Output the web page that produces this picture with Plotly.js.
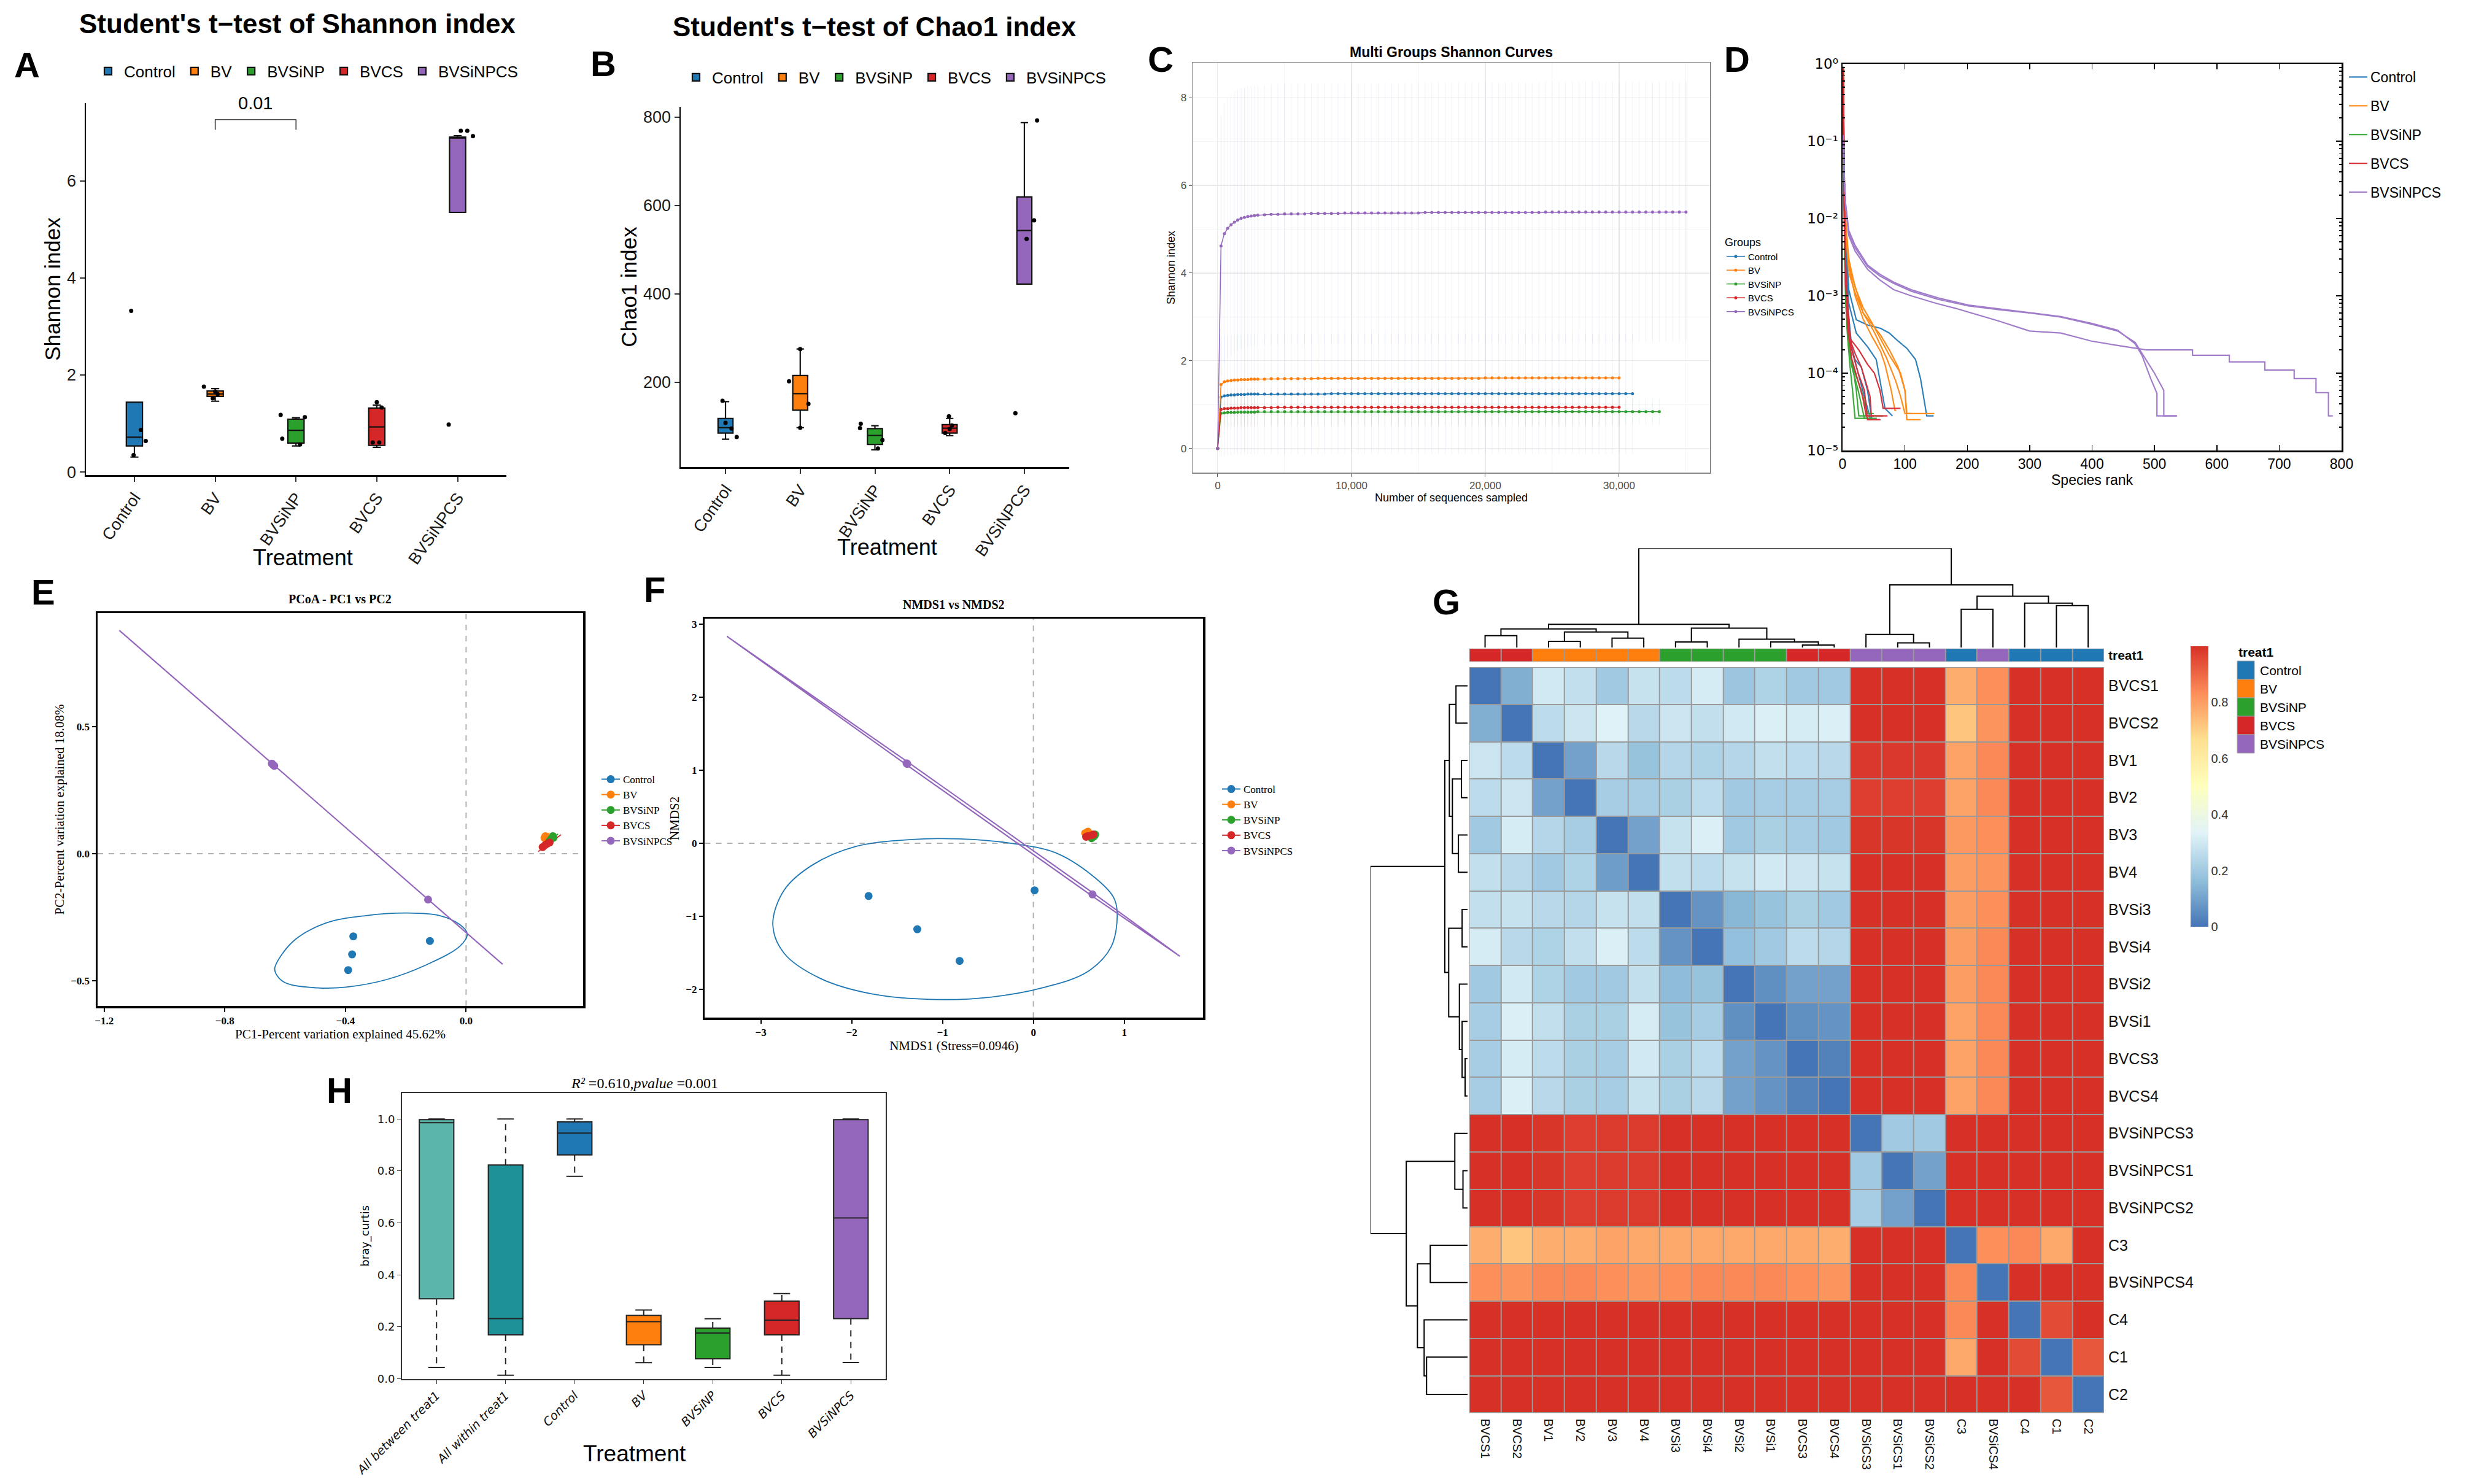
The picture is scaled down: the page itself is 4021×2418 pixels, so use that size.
<!DOCTYPE html>
<html><head><meta charset="utf-8">
<script src="https://cdn.plot.ly/plotly-3.0.1.min.js"></script>
<style>html,body{margin:0;padding:0;background:#fff}</style>
</head><body>
<div id="chart" style="width:4021px;height:2418px"></div>
<script>
// ===================== DATA =====================
const groups = ['Control','BV','BVSiNP','BVCS','BVSiNPCS'];
const groupColors = ['#1f77b4','#ff7f0e','#2ca02c','#d62728','#9467bd'];

// ---- A: Shannon index (box statistics + sample points) ----
const shannonQ1     = [0.54, 1.56, 0.60, 0.55, 5.35];
const shannonMedian = [0.72, 1.61, 0.86, 0.93, 6.88];
const shannonQ3     = [1.44, 1.67, 1.09, 1.32, 6.90];
const shannonLower  = [0.31, 1.46, 0.54, 0.51, 5.35];
const shannonUpper  = [1.44, 1.72, 1.12, 1.38, 6.93];
const shannonPtsX = [[0.96,1.08,1.14,0.99],[1.86,1.97,2.03,2.0],[2.81,2.83,3.11,3.05],[4.0,4.06,3.95,4.03],[5.04,5.12,5.19,4.89]];
const shannonPtsY = [[3.32,0.87,0.64,0.35],[1.76,1.52,1.61,1.66],[1.18,0.69,1.13,0.57],[1.44,1.33,0.61,0.61],[7.03,7.03,6.92,0.98]];
const shannonSigPair = [2, 3];
const shannonSigY = [7.05, 7.26];
const shannonSigLabel = '0.01';

// ---- B: Chao1 index ----
const chaoQ1     = [85, 136.5, 59, 85, 422];
const chaoMedian = [97, 174, 79.5, 96, 543];
const chaoQ3     = [118, 215, 95, 104, 619];
const chaoLower  = [71, 97, 47, 79, 422];
const chaoUpper  = [156, 275, 101.5, 118, 787];
const chaoPtsX = [[1.0,1.15,0.96,1.08],[1.85,2.11,2.0,2.0],[2.81,2.80,3.10,3.04],[3.99,4.03,3.94,4.0],[5.17,5.13,5.03,4.88]];
const chaoPtsY = [[108,76,158,95],[202,151,275,97],[106,96,69,50],[123,102,85,94],[792,566,524,130]];

// ---- C: Shannon rarefaction curves ----
const rareDepth = [0,250,500,750,1000,1250,1500,1750,2000,2250,2500,2750,3000,
  3500,4000,4500,5000,5500,6000,6500,7000,7500,8000,8500,9000,9500,10000,
  10500,11000,11500,12000,12500,13000,13500,14000,14500,15000,15500,16000,16500,17000,17500,18000,18500,19000,19500,20000,
  20500,21000,21500,22000,22500,23000,23500,24000,24500,25000,25500,26000,26500,27000,27500,28000,28500,29000,29500,30000,
  30500,31000,31500,32000,32500,33000,33500,34000,34500,35000];
const rareControl = [0,1.17,1.20,1.21,1.22,1.22,1.23,1.23,1.23,1.24,1.24,1.24,1.24,
  1.24,1.24,1.24,1.24,1.24,1.24,1.24,1.24,1.24,1.24,1.25,1.25,1.25,1.25,
  1.25,1.25,1.25,1.25,1.25,1.25,1.25,1.25,1.25,1.25,1.25,1.25,1.25,1.25,1.25,1.25,1.25,1.25,1.25,1.25,
  1.25,1.25,1.25,1.25,1.25,1.25,1.25,1.25,1.25,1.25,1.25,1.25,1.25,1.25,1.25,1.25,1.25,1.25,1.25,1.25,
  1.25,1.25];
const rareBV = [0,1.46,1.52,1.54,1.55,1.56,1.56,1.57,1.57,1.57,1.58,1.58,1.58,
  1.58,1.59,1.59,1.59,1.59,1.59,1.59,1.59,1.60,1.60,1.60,1.60,1.60,1.60,
  1.60,1.60,1.60,1.60,1.60,1.60,1.60,1.60,1.60,1.60,1.60,1.60,1.60,1.60,1.60,1.60,1.60,1.60,1.60,1.61,
  1.61,1.61,1.61,1.61,1.61,1.61,1.61,1.61,1.61,1.61,1.61,1.61,1.61,1.61,1.61,1.61,1.61,1.61,1.61,1.61];
const rareBVSiNP = [0,0.80,0.81,0.82,0.82,0.82,0.83,0.83,0.83,0.83,0.83,0.83,0.84,
  0.84,0.84,0.84,0.84,0.84,0.84,0.84,0.84,0.84,0.84,0.84,0.84,0.84,0.84,
  0.84,0.84,0.84,0.84,0.84,0.84,0.84,0.84,0.84,0.84,0.84,0.84,0.84,0.84,0.84,0.84,0.84,0.84,0.84,0.84,
  0.84,0.84,0.84,0.84,0.84,0.84,0.84,0.84,0.84,0.84,0.84,0.84,0.84,0.84,0.84,0.84,0.84,0.84,0.84,0.84,
  0.84,0.84,0.84,0.84,0.84,0.84];
const rareBVCS = [0,0.89,0.91,0.91,0.92,0.92,0.92,0.93,0.93,0.93,0.93,0.93,0.93,
  0.93,0.93,0.94,0.94,0.94,0.94,0.94,0.94,0.94,0.94,0.94,0.94,0.94,0.94,
  0.94,0.94,0.94,0.94,0.94,0.94,0.94,0.94,0.94,0.94,0.94,0.94,0.94,0.94,0.94,0.94,0.94,0.94,0.94,0.94,
  0.94,0.94,0.94,0.94,0.94,0.94,0.94,0.94,0.94,0.94,0.94,0.94,0.94,0.94,0.94,0.94,0.94,0.94,0.94,0.94];
const rareBVSiNPCS = [0,4.62,4.90,5.02,5.10,5.16,5.21,5.25,5.27,5.29,5.30,5.31,5.32,
  5.33,5.34,5.34,5.35,5.35,5.35,5.35,5.36,5.36,5.36,5.36,5.36,5.37,5.37,
  5.37,5.37,5.37,5.37,5.37,5.37,5.37,5.37,5.37,5.37,5.38,5.38,5.38,5.38,5.38,5.38,5.38,5.38,5.38,5.38,
  5.38,5.38,5.38,5.38,5.38,5.38,5.38,5.38,5.39,5.39,5.39,5.39,5.39,5.39,5.39,5.39,5.39,5.39,5.39,5.39,
  5.39,5.39,5.39,5.39,5.39,5.39,5.39,5.39,5.39,5.39];
const rareSD = [1.37, 0.08, 0.30, 0.45, 2.97];

// ---- D: rank abundance curves [rank, relative abundance] ----
const dControl = [
 [[1,0.8],[2,0.1],[3,0.03],[5,0.006],[10,0.0012],[22,0.00049],[40,0.00042],[61,0.00038],[75,0.00033],[89,0.00026],[103,0.00021],[117,0.00015],[125,0.000085],[135,0.000028],[146,0.000028]],
 [[1,0.85],[2,0.06],[3,0.02],[5,0.004],[10,0.0008],[22,0.00033],[40,0.00022],[54,0.00015],[61,0.00007],[68,0.000035],[80,0.000028]],
 [[1,0.9],[2,0.04],[3,0.01],[5,0.002],[12,0.00025],[20,0.00015],[30,0.00012],[40,0.00006],[47,0.000025],[61,0.000025]],
 [[1,0.9],[2,0.03],[4,0.005],[8,0.0008],[15,0.0002],[25,0.0001],[35,0.00005],[45,0.000025],[55,0.000025]]
];
const dBV = [
 [[1,0.75],[2,0.1],[3,0.03],[5,0.01],[8,0.004],[12,0.0022],[22,0.0012],[33,0.0006],[47,0.00043],[61,0.00031],[75,0.0002],[89,0.00012],[100,0.00006],[103,0.00003],[147,0.00003]],
 [[1,0.75],[2,0.1],[3,0.03],[5,0.009],[10,0.003],[20,0.0013],[33,0.0007],[47,0.00045],[61,0.00028],[75,0.00017],[93,0.0001],[100,0.00006],[103,0.000025],[125,0.000025]],
 [[1,0.8],[2,0.08],[3,0.02],[5,0.008],[10,0.0025],[20,0.001],[33,0.0005],[47,0.0003],[61,0.00019],[68,0.00013],[78,0.00006],[84,0.000033],[86,0.000033]],
 [[1,0.8],[2,0.08],[3,0.02],[5,0.007],[10,0.002],[20,0.0011],[33,0.0006],[50,0.00035],[70,0.00016],[85,0.00008],[93,0.00005],[100,0.00003],[110,0.00003]]
];
const dBVSiNP = [
 [[1,0.88],[2,0.06],[3,0.01],[5,0.0015],[8,0.0004],[12,0.00018],[18,0.0001],[22,0.00006],[26,0.000028],[65,0.000028]],
 [[1,0.9],[2,0.04],[3,0.008],[5,0.001],[8,0.0003],[12,0.00012],[16,0.00006],[20,0.000026],[45,0.000026]],
 [[1,0.9],[2,0.04],[3,0.006],[5,0.0008],[10,0.0002],[20,0.0001],[30,0.00006],[40,0.00003],[50,0.00003]],
 [[1,0.92],[2,0.03],[4,0.002],[8,0.0003],[15,0.00012],[25,0.00006],[35,0.000026],[55,0.000026]]
];
const dBVCS = [
 [[1,0.85],[2,0.06],[3,0.015],[5,0.002],[12,0.00028],[26,0.0002],[40,0.00013],[51,0.0001],[60,0.00006],[65,0.000035],[93,0.000035]],
 [[1,0.88],[2,0.05],[3,0.01],[5,0.0015],[10,0.0003],[20,0.00018],[30,0.00012],[44,0.00005],[46,0.000028],[72,0.000028]],
 [[1,0.88],[2,0.05],[4,0.004],[8,0.0005],[15,0.0002],[25,0.0001],[35,0.00006],[40,0.000025],[60,0.000025]],
 [[1,0.9],[2,0.04],[4,0.003],[8,0.0004],[15,0.00015],[25,0.00008],[32,0.00005],[38,0.000028],[50,0.000028]]
];
const dBVSiNPCS = [
 [[1,0.1],[2,0.05],[3,0.03],[5,0.015],[10,0.007],[20,0.0045],[40,0.0025],[60,0.0019],[82,0.0015],[110,0.0012],[153,0.00094],[202,0.00076],[251,0.00068],[300,0.00061],[350,0.00054],[399,0.00044],[441,0.00036],[469,0.00024],[480,0.00017],[494,0.000085],[504,0.000055],[504,0.000028],[536,0.000028]],
 [[1,0.12],[2,0.05],[3,0.03],[5,0.014],[10,0.0065],[20,0.0042],[40,0.0024],[60,0.0018],[82,0.00145],[110,0.00115],[153,0.0009],[202,0.00074],[251,0.00066],[300,0.0006],[350,0.00053],[399,0.00043],[441,0.00035],[469,0.00025],[480,0.00018],[500,0.0001],[515,0.00006],[515,0.000028],[536,0.000028]],
 [[1,0.1],[2,0.05],[3,0.03],[5,0.015],[10,0.006],[20,0.0038],[40,0.0022],[60,0.0016],[82,0.0012],[110,0.001],[150,0.0008],[181,0.00069],[251,0.00047],[300,0.00035],[350,0.00033],[399,0.00026],[438,0.00023],[487,0.0002],[561,0.0002],[561,0.00017],[620,0.00017],[620,0.00014],[677,0.00014],[677,0.00011],[724,0.00011],[724,0.000085],[759,0.000085],[759,0.000056],[779,0.000056],[779,0.000028],[786,0.000028]]
];
const dColors = ['#2c7fb8','#ff8c1a','#3aaa3a','#d7303a','#a07ccb'];

// ---- E: PCoA ----
const pcoaX = [[-0.374,-0.378,-0.391,-0.120],[0.263,0.267,0.260,0.270],[0.288,0.277,0.282,0.290],[0.254,0.277,0.262,0.270],[-0.644,-0.640,-0.636,-0.126]];
const pcoaY = [[-0.326,-0.397,-0.459,-0.344],[0.069,0.056,0.062,0.060],[0.069,0.050,0.058,0.063],[0.026,0.044,0.034,0.040],[0.355,0.350,0.346,-0.181]];
const pcoaEllipseX = [
 [-0.634,-0.574,-0.466,-0.331,-0.196,-0.088,-0.020,0.004,-0.020,-0.128,-0.263,-0.398,-0.493,-0.601,-0.631,-0.634],
 [0.255,0.276],[0.268,0.305],[0.239,0.315],[-1.150,0.121]];
const pcoaEllipseY = [
 [-0.448,-0.346,-0.274,-0.244,-0.234,-0.244,-0.280,-0.316,-0.364,-0.436,-0.496,-0.526,-0.529,-0.508,-0.472,-0.448],
 [0.050,0.082],[0.038,0.078],[0.008,0.075],[0.880,-0.436]];

// ---- F: NMDS ----
const nmdsX = [[-1.814,-1.278,-0.812,0.013],[0.57,0.60,0.62,0.59],[0.66,0.68,0.64,0.67],[0.60,0.64,0.58,0.66],[-1.392,-1.388,-1.396,0.650]];
const nmdsY = [[-0.722,-1.177,-1.611,-0.644],[0.14,0.16,0.13,0.12],[0.09,0.12,0.07,0.10],[0.10,0.11,0.09,0.12],[1.092,1.088,1.096,-0.700]];
const nmdsEllipseX = [
 [-2.868,-2.745,-2.437,-1.954,-1.339,-0.812,-0.242,0.242,0.637,0.878,0.922,0.856,0.593,0.110,-0.461,-1.076,-1.779,-2.350,-2.745,-2.868],
 [0.54,0.64],[0.62,0.70],[0.56,0.68],[-3.373,-1.39,0.65,1.612,0.65,-1.39,-3.373]];
const nmdsEllipseY = [
 [-1.116,-0.644,-0.301,-0.043,0.052,0.060,0.0,-0.129,-0.430,-0.731,-0.944,-1.418,-1.762,-1.977,-2.106,-2.140,-2.063,-1.848,-1.504,-1.116],
 [0.11,0.17],[0.06,0.13],[0.08,0.13],[2.836,1.12,-0.675,-1.547,-0.725,1.07,2.836]];

// ---- G: Bray-Curtis heatmap ----
const rowLabels = ['BVCS1','BVCS2','BV1','BV2','BV3','BV4','BVSi3','BVSi4','BVSi2','BVSi1','BVCS3','BVCS4','BVSiNPCS3','BVSiNPCS1','BVSiNPCS2','C3','BVSiNPCS4','C4','C1','C2'];
const colLabels = ['BVCS1','BVCS2','BV1','BV2','BV3','BV4','BVSi3','BVSi4','BVSi2','BVSi1','BVCS3','BVCS4','BVSiCS3','BVSiCS1','BVSiCS2','C3','BVSiCS4','C4','C1','C2'];
const colGroups = ['BVCS','BVCS','BV','BV','BV','BV','BVSiNP','BVSiNP','BVSiNP','BVSiNP','BVCS','BVCS','BVSiNPCS','BVSiNPCS','BVSiNPCS','Control','BVSiNPCS','Control','Control','Control'];
const brayMatrix = [
 [0,.13,.30,.27,.20,.28,.26,.31,.19,.23,.20,.20,1,1,1,.77,.83,1,1,1],
 [.13,0,.26,.29,.33,.25,.29,.27,.30,.32,.31,.32,1,1,1,.72,.82,1,1,1],
 [.29,.26,0,.10,.25,.18,.24,.23,.24,.27,.26,.25,.985,.985,.985,.79,.84,1,1,1],
 [.26,.29,.10,0,.21,.21,.22,.26,.20,.21,.21,.21,.975,.975,.975,.79,.84,1,1,1],
 [.20,.31,.24,.21,0,.10,.28,.32,.20,.22,.21,.20,.99,.99,.99,.81,.83,1,1,1],
 [.27,.25,.20,.23,.09,0,.27,.26,.28,.30,.29,.28,1,1,1,.80,.82,1,1,1],
 [.27,.28,.25,.24,.28,.27,0,.07,.15,.18,.22,.20,1,1,1,.80,.83,1,1,1],
 [.31,.25,.23,.27,.32,.26,.07,0,.17,.20,.26,.24,1,1,1,.80,.84,1,1,1],
 [.20,.30,.23,.20,.20,.27,.16,.18,0,.06,.10,.10,1,1,1,.80,.84,1,1,1],
 [.21,.32,.27,.22,.22,.31,.18,.21,.06,0,.06,.07,1,1,1,.79,.84,1,1,1],
 [.21,.31,.26,.22,.21,.30,.22,.26,.10,.07,0,.03,1,1,1,.79,.84,1,1,1],
 [.21,.32,.25,.22,.21,.28,.22,.25,.10,.07,.03,0,1,1,1,.79,.84,1,1,1],
 [1,1,.99,.975,.98,.98,1,1,1,1,1,1,0,.20,.20,1,1,1,1,1],
 [1,1,.99,.975,.98,.98,1,1,1,1,1,1,.20,0,.10,1,1,1,1,1],
 [1,1,.99,.975,.98,.98,1,1,1,1,1,1,.21,.10,0,1,1,1,1,1],
 [.77,.72,.77,.77,.79,.78,.78,.78,.78,.78,.78,.77,1,1,1,0,.83,.84,.78,1],
 [.83,.82,.84,.84,.83,.82,.83,.84,.84,.84,.83,.82,1,1,1,.84,0,1,1,1],
 [1,1,1,1,1,1,1,1,1,1,1,1,1,1,1,.84,1,0,.95,1],
 [1,1,1,1,1,1,1,1,1,1,1,1,1,1,1,.78,1,.95,0,.93],
 [1,1,1,1,1,1,1,1,1,1,1,1,1,1,1,1,1,1,.93,0]
];
// hierarchical clustering (same tree for rows and columns): merges reference leaves 0-19, new nodes 20+
const dendroMerges = [[0,1],[2,3],[4,5],[21,22],[20,23],[6,7],[10,11],[9,26],[8,27],[25,28],[24,29],
  [13,14],[12,31],[15,16],[18,19],[17,34],[33,35],[32,36],[30,37]];
const dendroHeights = [0.119,0.0625,0.094,0.156,0.1875,0.056,0.025,0.056,0.084,0.194,0.234,
  0.047,0.131,0.384,0.422,0.447,0.516,0.631,1.0];

// ---- H: Bray-Curtis distances box plot ----
const hCategories = ['All between treat1','All within treat1','Control','BV','BVSiNP','BVCS','BVSiNPCS'];
const hColors = ['#5bb5aa','#1e9097','#1f77b4','#ff7f0e','#2ca02c','#d62728','#9467bd'];
const hQ1     = [0.308,0.169,0.862,0.131,0.077,0.169,0.232];
const hMedian = [0.986,0.232,0.946,0.220,0.176,0.226,0.619];
const hQ3     = [0.998,0.823,0.989,0.244,0.195,0.299,0.998];
const hLower  = [0.044,0.014,0.779,0.062,0.044,0.014,0.063];
const hUpper  = [1.0,1.0,1.0,0.265,0.231,0.328,1.0];

// ===================== LAYOUT HELPERS =====================
const W = 4021, H = 2418;
const px = v => v / W;
const py = v => 1 - v / H;
const xd = (a, b) => [px(a), px(b)];
const yd = (top, bottom) => [py(bottom), py(top)];
const sans = 'Liberation Sans, Arial, sans-serif';
const serif = 'Liberation Serif, Times New Roman, serif';
const dejavu = 'DejaVu Sans, sans-serif';

const traces = [];
const shapes = [];
const annotations = [];

// ===================== A & B: box plots =====================
function boxPanel(xa, ya, leg, q1, med, q3, lo, hi, ptsX, ptsY) {
  groups.forEach((g, i) => {
    traces.push({type:'box', name:g, x:[i+1], q1:[q1[i]], median:[med[i]], q3:[q3[i]],
      lowerfence:[lo[i]], upperfence:[hi[i]], width:0.2, whiskerwidth:0.5,
      fillcolor:groupColors[i], line:{color:'#111', width:2.2}, boxpoints:false,
      xaxis:xa, yaxis:ya, legend:leg, showlegend:true, hoverinfo:'skip'});
  });
  groups.forEach((g, i) => {
    traces.push({type:'scatter', mode:'markers', x:ptsX[i], y:ptsY[i],
      marker:{color:'#000', size:7}, xaxis:xa, yaxis:ya, showlegend:false, hoverinfo:'skip'});
  });
}
boxPanel('x','y','legend', shannonQ1, shannonMedian, shannonQ3, shannonLower, shannonUpper, shannonPtsX, shannonPtsY);
boxPanel('x2','y2','legend2', chaoQ1, chaoMedian, chaoQ3, chaoLower, chaoUpper, chaoPtsX, chaoPtsY);
// significance bracket
traces.push({type:'scatter', mode:'lines',
  x:[shannonSigPair[0], shannonSigPair[0], shannonSigPair[1], shannonSigPair[1]],
  y:[shannonSigY[0], shannonSigY[1], shannonSigY[1], shannonSigY[0]],
  line:{color:'#222', width:1.5}, xaxis:'x', yaxis:'y', showlegend:false, hoverinfo:'skip'});
annotations.push({xref:'x', yref:'y domain', x:(shannonSigPair[0]+shannonSigPair[1])/2, y:1.0,
  xanchor:'center', yanchor:'middle', text:shannonSigLabel, showarrow:false, font:{size:29, family:sans}});

// ===================== C: rarefaction =====================
const rareY = [rareControl, rareBV, rareBVSiNP, rareBVCS, rareBVSiNPCS];
const faint = ['rgba(120,150,205,0.13)','rgba(255,150,60,0.10)','rgba(60,170,80,0.10)','rgba(230,90,100,0.10)','rgba(130,150,210,0.12)'];
groups.forEach((g, i) => {
  const xs = rareDepth.slice(0, rareY[i].length);
  traces.push({type:'scatter', mode:'lines+markers', name:g, x:xs, y:rareY[i],
    line:{color:groupColors[i], width:1.5}, marker:{color:groupColors[i], size:5},
    error_y:{type:'data', array:xs.map(d => d === 0 ? 0 : rareSD[i]), color:faint[i], thickness:1, width:0},
    xaxis:'x3', yaxis:'y3', legend:'legend3', hoverinfo:'skip'});
});

// ===================== D: rank abundance =====================
const dGroups = [dControl, dBV, dBVSiNP, dBVCS, dBVSiNPCS];
dGroups.forEach((curves, gi) => {
  curves.forEach((c, ci) => {
    const t = {type:'scatter', mode:'lines', name:groups[gi], showlegend: ci === 0,
      x:c.map(p => p[0]), y:c.map(p => p[1]),
      line:{color:dColors[gi], width:2.2}, xaxis:'x4', yaxis:'y4', legend:'legend4', hoverinfo:'skip'};
    if (ci === 0) t.legendgroup = 'D' + groups[gi];
    traces.push(t);
  });
});

// ===================== E & F: ordinations =====================
function interleave(arr) { const o = []; arr.forEach(v => { o.push(v, null); }); return o; }
function ordPanel(xa, ya, leg, X, Y, EX, EY, dotSize) {
  groups.forEach((g, i) => {
    traces.push({type:'scatter', mode:'lines', x:EX[i], y:EY[i],
      line:{color:groupColors[i], width:i === 4 ? 2.2 : 1.8, shape:(i === 0 ? 'spline' : 'linear'), smoothing:1},
      xaxis:xa, yaxis:ya, showlegend:false, hoverinfo:'skip'});
  });
  groups.forEach((g, i) => {
    traces.push({type:'scatter', mode:'lines+markers', name:g, x:interleave(X[i]), y:interleave(Y[i]),
      marker:{color:groupColors[i], size:dotSize}, line:{color:groupColors[i], width:2},
      connectgaps:false, xaxis:xa, yaxis:ya, legend:leg, hoverinfo:'skip'});
  });
}
ordPanel('x5','y5','legend5', pcoaX, pcoaY, pcoaEllipseX, pcoaEllipseY, 13);
ordPanel('x6','y6','legend6', nmdsX, nmdsY, nmdsEllipseX, nmdsEllipseY, 13);
['5','6'].forEach(k => {
  shapes.push({type:'line', xref:'x'+k, yref:'y'+k+' domain', x0:0, x1:0, y0:0, y1:1, line:{color:'#b0b0b0', width:2, dash:'dash'}, layer:'below'});
  shapes.push({type:'line', xref:'x'+k+' domain', yref:'y'+k, x0:0, x1:1, y0:0, y1:0, line:{color:'#b0b0b0', width:2, dash:'dash'}, layer:'below'});
});

// ===================== H: box plot with dashed whiskers =====================
const wx = [], wy = [], cx = [], cy = [];
hCategories.forEach((c, i) => {
  const p = i + 1;
  traces.push({type:'box', name:c, x:[p], q1:[hQ1[i]], median:[hMedian[i]], q3:[hQ3[i]],
    lowerfence:[hQ1[i]], upperfence:[hQ3[i]], width:0.5, whiskerwidth:0,
    fillcolor:hColors[i], line:{color:'#222', width:2}, boxpoints:false,
    xaxis:'x7', yaxis:'y7', showlegend:false, hoverinfo:'skip'});
  wx.push(p, p, null, p, p, null);
  wy.push(hQ1[i], hLower[i], null, hQ3[i], hUpper[i], null);
  cx.push(p - 0.12, p + 0.12, null, p - 0.12, p + 0.12, null);
  cy.push(hLower[i], hLower[i], null, hUpper[i], hUpper[i], null);
});
traces.push({type:'scatter', mode:'lines', x:wx, y:wy, line:{color:'#222', width:2, dash:'10px,9px'},
  xaxis:'x7', yaxis:'y7', showlegend:false, hoverinfo:'skip'});
traces.push({type:'scatter', mode:'lines', x:cx, y:cy, line:{color:'#222', width:2},
  xaxis:'x7', yaxis:'y7', showlegend:false, hoverinfo:'skip'});

// ===================== G: heatmap =====================
const idx = colLabels.map((_, i) => i);
const rdylbu = [[0,'#4575b4'],[1/6,'#91bfdb'],[2/6,'#e0f3f8'],[0.5,'#ffffbf'],[4/6,'#fee090'],[5/6,'#fc8d59'],[1,'#d73027']];
traces.push({type:'heatmap', x:idx, y:rowLabels.map((_, i) => i), z:brayMatrix, zmin:0, zmax:1,
  colorscale:rdylbu, xgap:2, ygap:2, xaxis:'x8', yaxis:'y8', hoverinfo:'skip',
  colorbar:{x:px(3569), xanchor:'left', y:py(1053), yanchor:'top', len:457, lenmode:'pixels',
    thickness:29, xpad:0, ypad:0, outlinewidth:0, ticks:'', tickvals:[0,0.2,0.4,0.6,0.8],
    ticktext:['0','0.2','0.4','0.6','0.8'], tickfont:{size:20, family:sans, color:'#333'}}});
const annColorscale = [];
groupColors.forEach((c, i) => {
  annColorscale.push([i / groupColors.length, c], [(i + 1) / groupColors.length, c]);
});
traces.push({type:'heatmap', x:idx, y:[0], z:[colGroups.map(g => groups.indexOf(g))],
  zmin:-0.5, zmax:groups.length - 0.5, colorscale:annColorscale, showscale:false, xgap:2, ygap:2,
  xaxis:'x8', yaxis:'y9', hoverinfo:'skip'});
shapes.push({type:'rect', xref:'x8', yref:'y8', x0:-0.5, x1:idx.length - 0.5, y0:-0.5, y1:rowLabels.length - 0.5,
  fillcolor:'#9a9a9a', line:{width:0}, layer:'below'});
shapes.push({type:'rect', xref:'x8', yref:'y9', x0:-0.5, x1:idx.length - 0.5, y0:-0.5, y1:0.5,
  fillcolor:'#9a9a9a', line:{width:0}, layer:'below'});
// dendrograms
function dendro(merges, heights, n) {
  const pos = [], hh = [], xs = [], ys = [];
  for (let i = 0; i < n; i++) { pos.push(i); hh.push(0); }
  merges.forEach((m, k) => {
    const a = m[0], b = m[1], h = heights[k];
    xs.push(pos[a], pos[a], pos[b], pos[b], null);
    ys.push(hh[a], h, h, hh[b], null);
    pos.push((pos[a] + pos[b]) / 2); hh.push(h);
  });
  return {xs, ys};
}
const dg = dendro(dendroMerges, dendroHeights, colLabels.length);
traces.push({type:'scatter', mode:'lines', x:dg.xs, y:dg.ys, line:{color:'#000', width:2},
  xaxis:'x8', yaxis:'y10', showlegend:false, hoverinfo:'skip', cliponaxis:false});
traces.push({type:'scatter', mode:'lines', x:dg.ys, y:dg.xs, line:{color:'#000', width:2},
  xaxis:'x11', yaxis:'y8', showlegend:false, hoverinfo:'skip', cliponaxis:false});
// treat1 legend
annotations.push({xref:'paper', yref:'paper', x:px(3645), y:py(1062), xanchor:'left', yanchor:'middle',
  text:'<b>treat1</b>', showarrow:false, font:{size:21, family:sans}});
groups.forEach((g, i) => {
  const top = 1077 + 30 * i;
  shapes.push({type:'rect', xref:'paper', yref:'paper', x0:px(3645), x1:px(3673), y0:py(top + 30), y1:py(top),
    fillcolor:groupColors[i], line:{color:'#a0a0a0', width:1}});
  annotations.push({xref:'paper', yref:'paper', x:px(3680), y:py(top + 15), xanchor:'left', yanchor:'middle',
    text:g, showarrow:false, font:{size:21, family:sans}});
});

// ===================== AXES =====================
const ggX = (dom, anchor, vals, text, range) => ({domain:dom, anchor, range, tickvals:vals, ticktext:text,
  tickangle:-55, ticks:'outside', ticklen:8, tickwidth:2, tickcolor:'#333', showline:true, linecolor:'#000',
  linewidth:2.5, showgrid:false, zeroline:false, tickfont:{size:27, family:sans, color:'#1a1a1a'}});
const ggY = (dom, anchor, vals, range, title) => ({domain:dom, anchor, range, tickvals:vals,
  ticks:'outside', ticklen:8, tickwidth:2, tickcolor:'#333', showline:true, linecolor:'#000', linewidth:2.5,
  showgrid:false, zeroline:false, tickfont:{size:27, family:sans, color:'#1a1a1a'},
  title:{text:title, font:{size:35, family:sans}, standoff:0}});
const catPos = groups.map((_, i) => i + 1);

const ordAxis = (dom, anchor, range, vals, text, title) => ({domain:dom, anchor, range, tickvals:vals, ticktext:text,
  ticks:'outside', ticklen:6, tickwidth:2, tickcolor:'#000', showline:true, mirror:true, linecolor:'#000', linewidth:3.5,
  showgrid:false, zeroline:false, tickfont:{size:17, family:serif, weight:'bold', color:'#000'},
  title:{text:title, font:{size:21, family:serif}, standoff:6}});

const layout = {
  width:W, height:H, margin:{l:0, r:0, t:0, b:0}, paper_bgcolor:'#fff', plot_bgcolor:'#fff',
  font:{family:sans, color:'#000'}, showlegend:true,
  // A
  xaxis: ggX(xd(140, 824.5), 'y', catPos, groups, [0.4, 5.6]),
  yaxis: ggY(yd(168, 774), 'x', [0,2,4,6], [-0.06, 7.6], 'Shannon index'),
  // B
  xaxis2: ggX(xd(1109, 1742), 'y2', catPos, groups, [0.4, 5.6]),
  yaxis2: ggY(yd(174, 761), 'x2', [200,400,600,800], [8, 823], 'Chao1 index'),
  // C
  xaxis3: {domain:xd(1943, 2786), anchor:'y3', range:[-1875, 36790], tick0:0, dtick:10000, tickformat:',',
    ticks:'outside', ticklen:5, tickcolor:'#555', showline:true, mirror:true, linecolor:'#8a8a8a', linewidth:1.5,
    showgrid:true, gridcolor:'#ebebeb', gridwidth:1.2, zeroline:false,
    minor:{dtick:5000, showgrid:true, gridcolor:'#f4f4f4', gridwidth:1},
    tickfont:{size:17, family:sans, color:'#4d4d4d'},
    title:{text:'Number of sequences sampled', font:{size:18, family:sans}, standoff:2}},
  yaxis3: {domain:yd(102, 770), anchor:'x3', range:[-0.55, 8.8], tick0:0, dtick:2,
    ticks:'outside', ticklen:5, tickcolor:'#555', showline:true, mirror:true, linecolor:'#8a8a8a', linewidth:1.5,
    showgrid:true, gridcolor:'#ebebeb', gridwidth:1.2, zeroline:false,
    minor:{dtick:1, showgrid:true, gridcolor:'#f4f4f4', gridwidth:1},
    tickfont:{size:17, family:sans, color:'#4d4d4d'},
    title:{text:'Shannon index', font:{size:18, family:sans}, standoff:4}},
  // D
  xaxis4: {domain:xd(3002, 3815), anchor:'y4', range:[0, 800], tick0:0, dtick:100,
    ticks:'inside', ticklen:9, tickwidth:1.5, tickcolor:'#000', showline:true, mirror:'ticks', linecolor:'#000', linewidth:2.5,
    showgrid:false, zeroline:false, tickfont:{size:23, family:sans, color:'#000'},
    title:{text:'Species rank', font:{size:23, family:sans}, standoff:4}},
  yaxis4: {domain:yd(104, 734), anchor:'x4', type:'log', range:[-5, 0],
    tickvals:[1, 1e-1, 1e-2, 1e-3, 1e-4, 1e-5],
    ticktext:['10⁰','10⁻¹','10⁻²','10⁻³','10⁻⁴','10⁻⁵'],
    ticks:'inside', ticklen:9, tickwidth:1.5, tickcolor:'#000', showline:true, mirror:'ticks', linecolor:'#000', linewidth:2.5,
    minor:{ticks:'inside', ticklen:4, tickcolor:'#000', dtick:'D1'},
    showgrid:false, zeroline:false, tickfont:{size:23, family:dejavu, color:'#000'}},
  // E
  xaxis5: ordAxis(xd(159, 950), 'y5', [-1.222, 0.388], [-1.2,-0.8,-0.4,0], ['−1.2','−0.8','−0.4','0.0'], 'PC1-Percent variation explained 45.62%'),
  yaxis5: ordAxis(yd(999, 1639), 'x5', [-0.60, 0.948], [-0.5,0,0.5], ['−0.5','0.0','0.5'], 'PC2-Percent variation explained 18.08%'),
  // F
  xaxis6: ordAxis(xd(1148.4, 1960.2), 'y6', [-3.616, 1.868], [-3,-2,-1,0,1], ['−3','−2','−1','0','1'], 'NMDS1 (Stress=0.0946)'),
  yaxis6: ordAxis(yd(1008.3, 1658.3), 'x6', [-2.39, 3.076], [-2,-1,0,1,2,3], ['−2','−1','0','1','2','3'], 'NMDS2'),
  // H
  xaxis7: {domain:xd(655, 1442.5), anchor:'y7', range:[0.5, 7.5], tickvals:hCategories.map((_, i) => i + 1),
    ticktext:hCategories, tickangle:-45, ticks:'outside', ticklen:6, tickcolor:'#333', showline:true, mirror:true,
    linecolor:'#333', linewidth:2, showgrid:false, zeroline:false,
    tickfont:{size:19.5, family:dejavu, style:'italic', color:'#111'}},
  yaxis7: {domain:yd(1781, 2246.6), anchor:'x7', range:[0, 1.1], tickvals:[0,0.2,0.4,0.6,0.8,1.0], tickformat:'.1f',
    ticks:'outside', ticklen:6, tickcolor:'#333', showline:true, mirror:true, linecolor:'#333', linewidth:2,
    showgrid:false, zeroline:false, tickfont:{size:18, family:dejavu, color:'#111'},
    title:{text:'bray_curtis', font:{size:18, family:dejavu}, standoff:8}},
  // G heatmap
  xaxis8: {domain:xd(2393.7, 3428), anchor:'y8', range:[-0.5, colLabels.length - 0.5], tickvals:idx, ticktext:colLabels,
    tickangle:90, ticks:'', showline:false, showgrid:false, zeroline:false, ticklabelstandoff:8,
    tickfont:{size:20, family:sans, color:'#111'}},
  yaxis8: {domain:yd(1087, 2302.4), anchor:'x8', range:[rowLabels.length - 0.5, -0.5], tickvals:rowLabels.map((_, i) => i),
    ticktext:rowLabels, side:'right', ticks:'', showline:false, showgrid:false, zeroline:false, ticklabelstandoff:6,
    tickfont:{size:25, family:sans, color:'#111'}},
  yaxis9: {domain:yd(1056.4, 1077.9), anchor:'x8', range:[-0.5, 0.5], tickvals:[0], ticktext:['<b>treat1</b>'],
    side:'right', ticks:'', showline:false, showgrid:false, zeroline:false, ticklabelstandoff:6,
    tickfont:{size:21, family:sans, color:'#111'}},
  yaxis10: {domain:yd(893.2, 1055), anchor:'x8', range:[0, 1.0], visible:false, fixedrange:true},
  xaxis11: {domain:xd(2232.8, 2391), anchor:'y8', range:[1.0, 0], visible:false, fixedrange:true},
  // legends
  legend: {orientation:'h', x:px(150), y:py(116), xanchor:'left', yanchor:'middle', font:{size:26, family:sans}, bgcolor:'rgba(0,0,0,0)', traceorder:'normal', itemwidth:42},
  legend2: {orientation:'h', x:px(1108), y:py(126), xanchor:'left', yanchor:'middle', font:{size:26, family:sans}, bgcolor:'rgba(0,0,0,0)', traceorder:'normal', itemwidth:42},
  legend3: {x:px(2808), y:py(378), xanchor:'left', yanchor:'top', font:{size:15, family:sans}, bgcolor:'rgba(0,0,0,0)',
    title:{text:'Groups', font:{size:18, family:sans}}, itemwidth:30, tracegroupgap:0},
  legend4: {x:px(3822), y:py(104), xanchor:'left', yanchor:'top', font:{size:23, family:sans}, bgcolor:'rgba(0,0,0,0)', tracegroupgap:14},
  legend5: {x:px(975), y:py(1252), xanchor:'left', yanchor:'top', font:{size:17, family:serif}, bgcolor:'rgba(0,0,0,0)', itemwidth:30},
  legend6: {x:px(1986), y:py(1268), xanchor:'left', yanchor:'top', font:{size:17, family:serif}, bgcolor:'rgba(0,0,0,0)', itemwidth:30},
  shapes, annotations
};

// axis titles placed where the reference shows them
const axisTitles = [
  ['Treatment', 493, 909, 36], ['Treatment', 1445, 892, 36], ['Treatment', 1034, 2368, 37]
];
axisTitles.forEach(t => annotations.push({xref:'paper', yref:'paper', x:px(t[1]), y:py(t[2]), xanchor:'center', yanchor:'middle',
  text:t[0], showarrow:false, font:{size:t[3], family:sans, color:'#000'}}));
// titles and panel letters
const letters = [['A',44,106],['B',983,103],['C',1891,97],['D',2830,97],['E',70,965],['F',1066,961],['G',2356,980],['H',553,1776]];
letters.forEach(l => annotations.push({xref:'paper', yref:'paper', x:px(l[1]), y:py(l[2]), xanchor:'center', yanchor:'middle',
  text:'<b>' + l[0] + '</b>', showarrow:false, font:{size:58, family:sans, color:'#000'}}));
const titles = [
  ["Student's t−test of Shannon index", 484, 38, 44, sans, true],
  ["Student's t−test of Chao1 index", 1425, 44, 44, sans, true],
  ['Multi Groups Shannon Curves', 2364, 85, 23, sans, true],
  ['PCoA - PC1 vs PC2', 554, 976, 20, serif, true],
  ['NMDS1 vs NMDS2', 1554, 985, 20, serif, true],
  ['<i>R²</i> =0.610,<i>pvalue</i> =0.001', 1050, 1765, 24, serif, false]
];
titles.forEach(t => annotations.push({xref:'paper', yref:'paper', x:px(t[1]), y:py(t[2]), xanchor:'center', yanchor:'middle',
  text:t[5] ? '<b>' + t[0] + '</b>' : t[0], showarrow:false, font:{size:t[3], family:t[4], color:'#000'}}));

Plotly.newPlot('chart', traces, layout, {staticPlot:true});
</script>
</body></html>
